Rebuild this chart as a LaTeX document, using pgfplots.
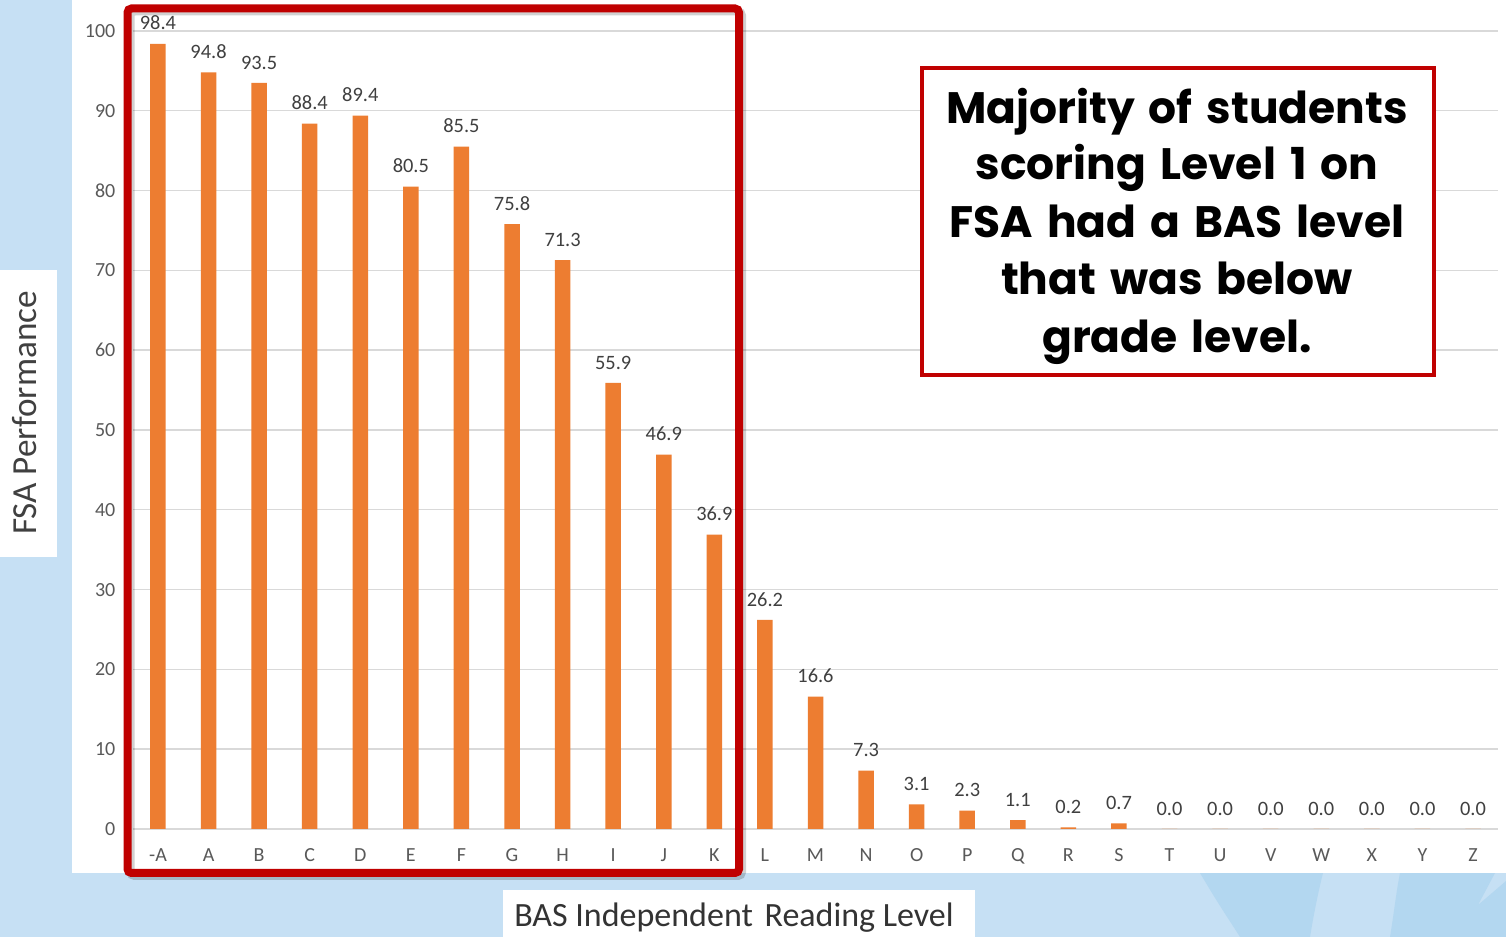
\documentclass[border=0pt]{standalone}
\usepackage{pgfplots}
\pgfplotsset{compat=1.18}
\usepackage{pgfplotstable}
\usepackage{fontspec}
\setmainfont{Carlito}
\newfontfamily\boxfont{Poppins}
\newcommand\bxfont{\boxfont\bfseries\fontsize{22}{28}\selectfont\spaceskip=7pt\relax}
\definecolor{bgblue}{HTML}{C6E0F4}
\definecolor{bgdark}{HTML}{B3D7F0}
\definecolor{barorange}{HTML}{ED7D31}
\definecolor{gridgray}{HTML}{D9D9D9}
\definecolor{tickgray}{HTML}{595959}
\definecolor{datagray}{HTML}{404040}
\definecolor{boxred}{HTML}{C00000}

\pgfplotstableread{
x y lab
0 98.4 98.4
1 94.8 94.8
2 93.5 93.5
3 88.4 88.4
4 89.4 89.4
5 80.5 80.5
6 85.5 85.5
7 75.8 75.8
8 71.3 71.3
9 55.9 55.9
10 46.9 46.9
11 36.9 36.9
12 26.2 26.2
13 16.6 16.6
14 7.3 7.3
15 3.1 3.1
16 2.3 2.3
17 1.1 1.1
18 0.2 0.2
19 0.7 0.7
20 0.0 0.0
21 0.0 0.0
22 0.0 0.0
23 0.0 0.0
24 0.0 0.0
25 0.0 0.0
26 0.0 0.0
}\fsadata

\begin{document}
\begin{tikzpicture}[x=1pt,y=1pt]
\useasboundingbox (0,0) rectangle (753,468.5);
\fill[bgblue] (0,0) rectangle (753,468.5);
% decorative background shapes
\fill[bgdark] (600,32) .. controls (610,15) and (615,8) .. (620,0) -- (655,0) .. controls (657,12) and (659,22) .. (661.5,32) -- cycle;
\fill[bgdark] (700,32) -- (747.5,32) -- (739,16) -- (753,28) -- (753,0) -- (695,0) .. controls (697,12) and (698,22) .. (700,32) -- cycle;
% white panels
\fill[white] (36,32) rectangle (753,468.5);
\fill[white] (0,190) rectangle (28.5,333.5);
\fill[white] (251.5,0) rectangle (487.5,23.5);
\node[rotate=90, font=\fontsize{17.6}{20}\selectfont, text=datagray] at (12.5,262) {FSA Performance};
\node[anchor=base, font=\fontsize{17}{20}\selectfont, text=black!80] at (367,5) {BAS Independent\hspace{2pt} Reading Level};

\begin{axis}[
  at={(66.35pt,54pt)}, anchor=south west,
  width=682.8pt, height=399pt, scale only axis,
  xmin=-0.5, xmax=26.5, ymin=0, ymax=100,
  clip=false,
  axis line style={draw=none},
  tick style={draw=none},
  major tick length=0pt,
  ymajorgrids=true,
  major grid style={draw=gridgray, line width=0.7pt},
  ytick={0,10,...,100},
  xtick={0,...,26},
  xticklabels={-A,A,B,C,D,E,F,G,H,I,J,K,L,M,N,O,P,Q,R,S,T,U,V,W,X,Y,Z},
  yticklabel style={font=\fontsize{10}{12}\selectfont, text=tickgray, inner sep=0pt, anchor=east, xshift=-8.5pt},
  xticklabel style={font=\fontsize{10}{12}\selectfont, text=tickgray, inner sep=0pt, anchor=north, yshift=-9.7pt},
  /pgf/number format/assume math mode=true,
]
\addplot[ybar, bar width=7.75pt, fill=barorange, draw=none,
  nodes near coords, point meta=explicit symbolic,
  every node near coord/.append style={font=\fontsize{10.2}{12}\selectfont, text=datagray, anchor=south, inner sep=0pt, yshift=6.6pt}]
  table[x=x, y=y, meta=lab] {\fsadata};
\end{axis}

% red highlight rectangle with soft shadow
\draw[black, opacity=0.18, line width=4pt, rounded corners=2pt] (65.25,462.75) rectangle (371,30.5);
\draw[boxred, line width=4pt, rounded corners=2pt] (63.75,464.25) rectangle (369.5,32);

% text box
\draw[boxred, line width=2.25pt, fill=white] (461,434.5) rectangle (717,281);
\begin{scope}[every node/.style={anchor=base, text=black, inner sep=0pt}]
\node at (588.5,406.5) {\bxfont Majority of students};
\node at (588.5,378.5) {\bxfont scoring Level 1 on};
\node at (588.5,349.5) {\bxfont FSA had a BAS level};
\node at (588.5,321) {\bxfont that was below};
\node at (588.5,292) {\bxfont grade level.};
\end{scope}
\end{tikzpicture}
\end{document}
